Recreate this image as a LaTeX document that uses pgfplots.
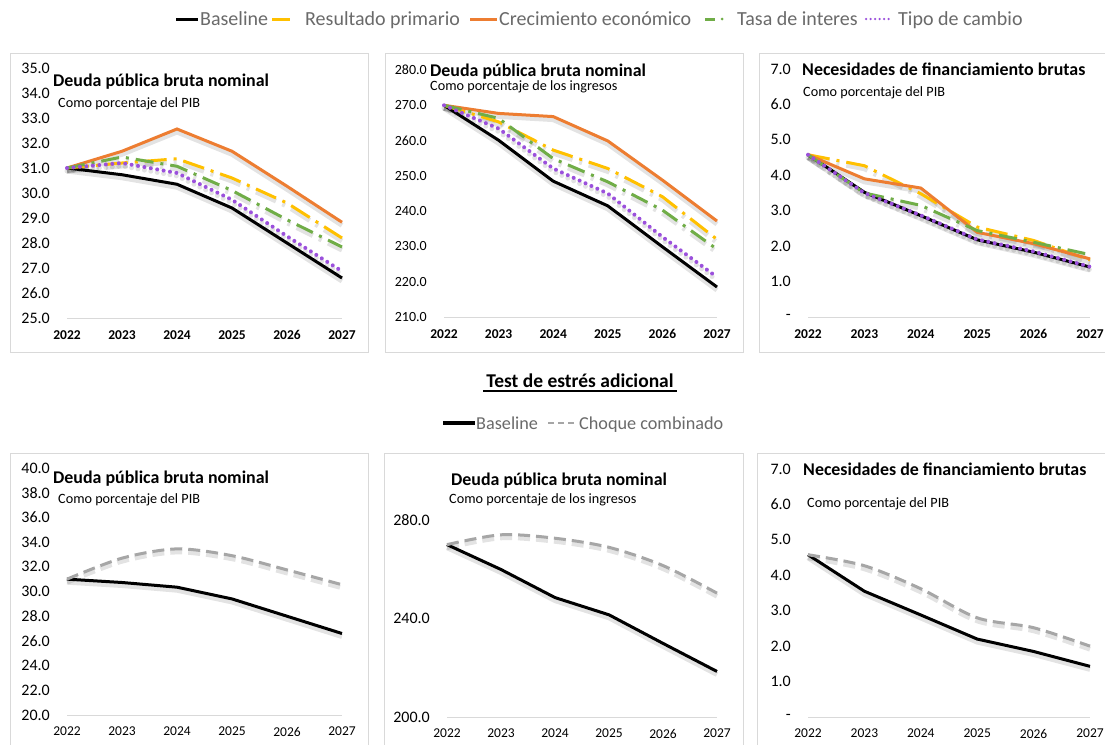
\documentclass[border=0pt]{standalone}
\usepackage{pgfplots}
\pgfplotsset{compat=1.18}
\usepackage{pgfplotstable}
\usepackage{fontspec}
\setmainfont{Carlito}

\definecolor{cOr}{HTML}{ED7D31}
\definecolor{cYe}{HTML}{FFC000}
\definecolor{cGr}{HTML}{70AD47}
\definecolor{cPu}{RGB}{155,80,220}
\definecolor{cGy}{HTML}{A6A6A6}
\definecolor{cBox}{HTML}{D9D9D9}
\definecolor{cLeg}{HTML}{6A6A6A}

\pgfplotstableread{
yr base res cre tas tip
2022 31.0 31.0 31.0 31.0 31.0
2023 30.73 31.2 31.67 31.44 31.2
2024 30.35 31.37 32.56 31.07 30.8
2025 29.4 30.6 31.67 30.1 29.73
2026 28.0 29.6 30.27 28.93 28.27
2027 26.6 28.2 28.83 27.84 26.87
}\tA
\pgfplotstableread{
yr base res cre tas tip
2022 270.0 270.0 270.0 270.0 270.0
2023 260.1 265.3 267.7 266.3 263.4
2024 248.5 257.3 266.8 254.9 252.1
2025 241.5 252.1 259.9 248.3 245.0
2026 229.9 244.1 248.8 240.3 232.7
2027 218.5 232.0 237.2 229.2 221.3
}\tB
\pgfplotstableread{
yr base res cre tas tip
2022 4.58 4.58 4.58 4.58 4.58
2023 3.52 4.27 3.90 3.50 3.50
2024 2.86 3.48 3.64 3.15 2.87
2025 2.18 2.54 2.39 2.44 2.19
2026 1.83 2.16 2.07 2.11 1.85
2027 1.41 1.61 1.64 1.76 1.42
}\tC
\pgfplotstableread{
yr base cho
2022 31.0 31.0
2023 30.73 32.7
2024 30.35 33.45
2025 29.4 32.9
2026 28.0 31.75
2027 26.6 30.55
}\tD
\pgfplotstableread{
yr base cho
2022 270.0 270.0
2023 259.9 274.0
2024 248.5 272.6
2025 241.5 268.9
2026 229.9 261.5
2027 218.5 250.3
}\tE
\pgfplotstableread{
yr base cho
2022 4.58 4.58
2023 3.55 4.27
2024 2.88 3.62
2025 2.20 2.80
2026 1.85 2.52
2027 1.43 2.00
}\tF

\newcommand\ttl{\fontsize{17.9}{21}\selectfont\bfseries}
\newcommand\sub{\fontsize{14.2}{17}\selectfont}
\newcommand\leg{\fontsize{20}{24}\selectfont\color{cLeg}}
\newcommand\legb{\fontsize{18.2}{22}\selectfont\color{cLeg}}

\pgfplotsset{
  panel/.style={
    scale only axis, clip=false,
    axis lines*=left,
    y axis line style={draw=none},
    x axis line style={draw=cBox, line width=1pt},
    major tick length=0pt,
    xmin=2022, xmax=2027,
    xtick={2022,2023,2024,2025,2026,2027},
    xticklabels={2022,2023,2024,2025,2026,2027},
    xticklabel style={anchor=north, inner sep=0pt, yshift=-12pt, font=\fontsize{13.5}{16}\selectfont},
    yticklabel style={anchor=east, inner sep=0pt, xshift=-17pt, font=\fontsize{16}{19}\selectfont},
    anchor=south west,
  },
  toprow/.style={xticklabel style={font=\fontsize{13.5}{16}\selectfont\bfseries}},
  base/.style={black, line width=3pt},
  res/.style={cYe, line width=3pt, dash pattern=on 22pt off 7pt on 3pt off 7pt},
  cre/.style={cOr, line width=3pt},
  tas/.style={cGr, line width=3pt, dash pattern=on 18pt off 7pt on 3pt off 7pt},
  tip/.style={cPu, line width=4pt, line cap=round, dash pattern=on 0pt off 6.5pt},
  cho/.style={cGy, line width=3pt, dash pattern=on 12pt off 6pt},
  shd/.style={draw=black, opacity=0.11, line width=5pt, yshift=-3pt, forget plot},
}

\newcommand\fiveseries[1]{%
  \addplot[base,shd] table[x=yr,y=base]{#1};
  \addplot[res,shd] table[x=yr,y=res]{#1};
  \addplot[cre,shd] table[x=yr,y=cre]{#1};
  \addplot[tas,shd] table[x=yr,y=tas]{#1};
  \addplot[tip,shd] table[x=yr,y=tip]{#1};
  \addplot[base] table[x=yr,y=base]{#1};
  \addplot[res] table[x=yr,y=res]{#1};
  \addplot[cre] table[x=yr,y=cre]{#1};
  \addplot[tas] table[x=yr,y=tas]{#1};
  \addplot[tip] table[x=yr,y=tip]{#1};
}
\newcommand\twoseries[1]{%
  \addplot[base,shd] table[x=yr,y=base]{#1};
  \addplot[cho,shd,smooth] table[x=yr,y=cho]{#1};
  \addplot[base] table[x=yr,y=base]{#1};
  \addplot[cho,smooth] table[x=yr,y=cho]{#1};
}

\begin{document}
\begin{tikzpicture}
\begin{scope}[x=1pt,y=1pt]
\useasboundingbox (0,0) rectangle (1105,-744);
\fill[white] (0,0) rectangle (1105,-744);

% panel boxes
\draw[cBox, line width=1pt] (10,-53) rectangle (368,-352);
\draw[cBox, line width=1pt] (385,-53) rectangle (743,-352);
\draw[cBox, line width=1pt] (759,-53) rectangle (1112,-352);
\draw[cBox, line width=1pt] (10,-453) rectangle (368,-760);
\draw[cBox, line width=1pt] (384,-453) rectangle (743,-760);
\draw[cBox, line width=1pt] (757,-453) rectangle (1112,-760);

% top legend
\draw[black, line width=3pt] (176,-19) -- (198,-19);
\node[anchor=base west, inner sep=0pt] at (200,-25.5) {\leg Baseline};
\draw[cYe, line width=3pt] (272,-19) -- (290,-19);
\node[anchor=base west, inner sep=0pt] at (305,-25.5) {\leg Resultado primario};
\draw[cOr, line width=3pt] (470,-19) -- (497,-19);
\node[anchor=base west, inner sep=0pt] at (499,-25.5) {\leg Crecimiento económico};
\draw[cGr, line width=3pt] (705,-19) -- (715,-19);
\fill[cGr] (722,-19) circle (1.5);
\node[anchor=base west, inner sep=0pt] at (737,-25.5) {\leg Tasa de interes};
\draw[cPu, line width=2.5pt, line cap=round, dash pattern=on 0pt off 4.5pt] (866,-19) -- (893,-19);
\node[anchor=base west, inner sep=0pt] at (898,-25.5) {\leg Tipo de cambio};

% middle title & legend
\node[anchor=base, inner sep=0pt] at (580,-387) {\fontsize{19.5}{23}\selectfont\bfseries Test de estrés adicional};
\draw[black, line width=1.2pt] (483,-391) -- (677,-391);
\draw[black, line width=4pt] (443,-423) -- (475,-423);
\node[anchor=base west, inner sep=0pt] at (476,-429) {\legb Baseline};
\draw[cGy, line width=2.5pt, dash pattern=on 6pt off 4pt] (548,-423) -- (576,-423);
\node[anchor=base west, inner sep=0pt] at (579,-429) {\legb Choque combinado};
\end{scope}

% ---------- Panel 1
\begin{axis}[panel, toprow, at={(67pt,-318pt)}, width=275pt, height=250pt,
  ymin=25, ymax=35, ytick={25,26,27,28,29,30,31,32,33,34,35},
  yticklabels={25.0,26.0,27.0,28.0,29.0,30.0,31.0,32.0,33.0,34.0,35.0}]
\fiveseries{\tA}
\end{axis}

% ---------- Panel 2
\begin{axis}[panel, toprow, at={(444pt,-317pt)}, width=273pt, height=247pt,
  ymin=210, ymax=280, ytick={210,220,230,240,250,260,270,280},
  yticklabels={210.0,220.0,230.0,240.0,250.0,260.0,270.0,280.0},
  yticklabel style={font=\fontsize{14}{17}\selectfont}]
\fiveseries{\tB}
\end{axis}

% ---------- Panel 3
\begin{axis}[panel, toprow, at={(808pt,-317pt)}, width=282pt, height=248pt,
  ymin=0, ymax=7, ytick={0,1,2,3,4,5,6,7},
  yticklabels={-,1.0,2.0,3.0,4.0,5.0,6.0,7.0}]
\fiveseries{\tC}
\end{axis}

% ---------- Panel 4
\begin{axis}[panel, at={(67pt,-715pt)}, width=275pt, height=247pt,
  ymin=20, ymax=40, ytick={20,22,24,26,28,30,32,34,36,38,40},
  yticklabels={20.0,22.0,24.0,26.0,28.0,30.0,32.0,34.0,36.0,38.0,40.0}]
\twoseries{\tD}
\end{axis}

% ---------- Panel 5
\begin{axis}[panel, at={(447pt,-717pt)}, width=270pt, height=197pt,
  ymin=200, ymax=280, ytick={200,240,280},
  yticklabels={200.0,240.0,280.0}]
\twoseries{\tE}
\end{axis}

% ---------- Panel 6
\begin{axis}[panel, at={(808pt,-717pt)}, width=282pt, height=248pt,
  ymin=0, ymax=7, ytick={0,1,2,3,4,5,6,7},
  yticklabels={-,1.0,2.0,3.0,4.0,5.0,6.0,7.0}]
\twoseries{\tF}
\end{axis}

\begin{scope}[x=1pt,y=1pt]
\node[anchor=base west, inner sep=0pt] at (53,-86) {\ttl Deuda pública bruta nominal};
\node[anchor=base west, inner sep=0pt] at (58,-107) {\sub Como porcentaje del PIB};
\node[anchor=base west, inner sep=0pt] at (430,-76) {\ttl Deuda pública bruta nominal};
\node[anchor=base west, inner sep=0pt] at (430,-90) {\sub Como porcentaje de los ingresos};
\node[anchor=base west, inner sep=0pt] at (802,-75) {\ttl Necesidades de financiamiento brutas};
\node[anchor=base west, inner sep=0pt] at (803,-96) {\sub Como porcentaje del PIB};
\node[anchor=base west, inner sep=0pt] at (53,-483) {\ttl Deuda pública bruta nominal};
\node[anchor=base west, inner sep=0pt] at (58,-503) {\sub Como porcentaje del PIB};
\node[anchor=base west, inner sep=0pt] at (451,-485) {\ttl Deuda pública bruta nominal};
\node[anchor=base west, inner sep=0pt] at (449,-503) {\sub Como porcentaje de los ingresos};
\node[anchor=base west, inner sep=0pt] at (803,-475) {\ttl Necesidades de financiamiento brutas};
\node[anchor=base west, inner sep=0pt] at (807,-507) {\sub Como porcentaje del PIB};
\end{scope}
\end{tikzpicture}
\end{document}
